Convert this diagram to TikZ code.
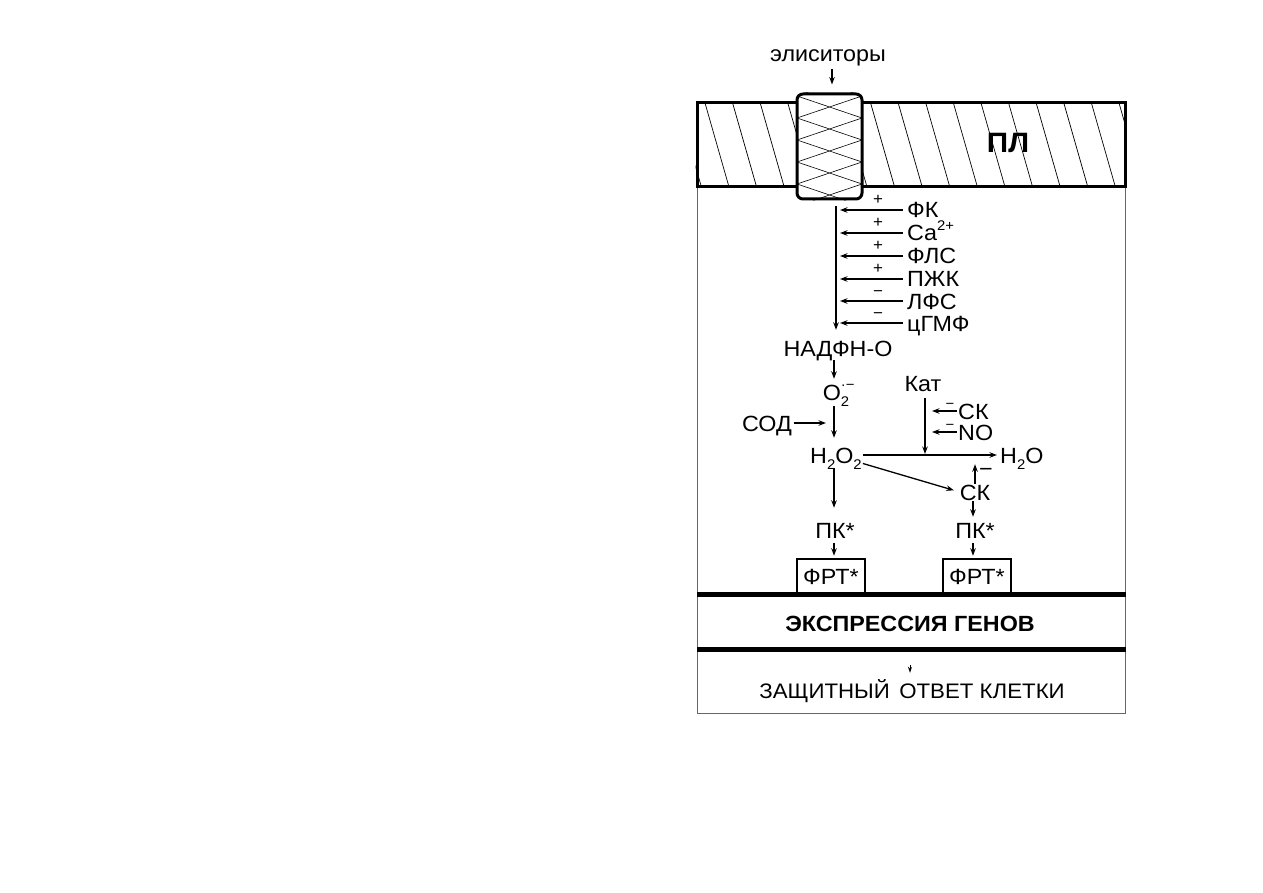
\documentclass[tikz,border=0pt]{standalone}
\usepackage{fontspec}
\setmainfont{Liberation Sans}[FakeStretch=1.06]
\usetikzlibrary{arrows.meta}
\newcommand\mysub[1]{\raisebox{-0.28em}{\fontsize{14}{14}\selectfont #1}}
\newcommand\mysup[1]{\raisebox{0.48em}{\fontsize{14}{14}\selectfont #1}}
\tikzset{
  lbl/.style={font=\fontsize{22}{22}\selectfont, inner sep=0pt, text height=16pt, text depth=0pt},
  sml/.style={font=\fontsize{16}{16}\selectfont, inner sep=0pt},
  arr/.style={line width=1.3pt, -{Stealth[length=7.5pt,width=5.5pt]}},
  hatchline/.style={line width=0.7pt},
  framel/.style={line width=0.8pt, black!60},
  rulel/.style={line width=5pt},
  bandbox/.style={draw, line width=3pt, minimum width=428pt, minimum height=84pt, inner sep=0pt},
  porebox/.style={draw, fill=white, line width=3pt, rounded corners=6pt, minimum width=65pt, minimum height=105pt, inner sep=0pt},
  frtbox/.style={lbl, draw, line width=2.5pt, minimum width=68pt, minimum height=35pt, fill=white}
}
\begin{document}
\begin{tikzpicture}[x=1pt,y=-1pt]
\useasboundingbox (0,0) rectangle (1263,893);
\fill[white] (0,0) rectangle (1263,893);
% column coordinates
\coordinate (cA) at (832,0);
\coordinate (cM) at (836,0);
\coordinate (c1) at (834,0);
\coordinate (cK) at (925,0);
\coordinate (c2) at (973,0);
\coordinate (cE) at (910,0);
% frame
\draw[framel] (697,187) -- (697,713) -- (1125,713) -- (1125,187);
% membrane band
\node[bandbox] (band) at (911,145) {};
\begin{scope}
  \clip (band.north west) rectangle (band.south east);
  \foreach \k in {-2,...,16} {
    \draw[hatchline] ({705+27.6*\k},103) -- ({729+27.6*\k},187);
  }
\end{scope}
\node[porebox] (pore) at (829.5,146.5) {};
\begin{scope}
  \clip[rounded corners=6pt] (pore.north west) rectangle (pore.south east);
  \foreach \k in {-1,...,5} {
    \draw[hatchline, line width=0.6pt] (797,{96+22*\k}) -- (862,{118+22*\k});
    \draw[hatchline, line width=0.6pt] (797,{118+22*\k}) -- (862,{96+22*\k});
  }
\end{scope}
\node[font=\bfseries\fontsize{28}{28}\selectfont, inner sep=0pt] (pl) at (1008,143) {ПЛ};
% elicitors
\node[lbl] (eli) at (828,54) {элиситоры};
\draw[arr, shorten <=7pt, shorten >=8pt] (eli.south -| cA) -- (pore.north -| cA);
% regulators
\node[lbl, anchor=west] (fk) at (907,210) {ФК};
\node[lbl, anchor=west] (ca) at (907,233) {Ca\mysup{2+}};
\node[lbl, anchor=west] (fls) at (907,256) {ФЛС};
\node[lbl, anchor=west] (pzhk) at (907,279) {ПЖК};
\node[lbl, anchor=west] (lfs) at (907,301) {ЛФС};
\node[lbl, anchor=west] (cgmf) at (907,323) {цГМФ};
\foreach \n in {fk,ca,fls,pzhk,lfs,cgmf} {
  \draw[arr, shorten <=4pt, shorten >=4pt] (\n.west) -- (\n.west -| cM);
}
\node[sml] (s1) at (878,200) {+};
\node[sml] (s2) at (878,223) {+};
\node[sml] (s3) at (878,246) {+};
\node[sml] (s4) at (878,269) {+};
\node[sml] (s5) at (878,294) {−};
\node[sml] (s6) at (878,316) {−};
% main chain
\node[lbl] (nadph) at (838,348) {НАДФН-О};
\draw[arr, shorten <=6pt, shorten >=10pt] (pore.south -| cM) -- (nadph.north -| cM);
\node[lbl] (o2) at (836,392) {O\rlap{\mysup{·−}}\mysub{2}};
\draw[arr, shorten <=4pt, shorten >=5pt] (nadph.south -| c1) -- (o2.north -| c1);
\node[lbl, anchor=west] (h2o2) at (810,455) {H\mysub{2}O\mysub{2}};
\draw[arr, shorten <=6pt, shorten >=9pt] (o2.south -| c1) -- (h2o2.north -| c1);
\node[lbl, anchor=east] (sod) at (792,423) {СОД};
\draw[arr, shorten <=2pt, shorten >=8pt] (sod.east) -- (sod.east -| c1);
\node[lbl, anchor=west] (h2o) at (1000,455) {H\mysub{2}O};
\draw[arr, shorten <=1pt, shorten >=3pt] (h2o2.east) -- (h2o.west);
% catalase
\node[lbl] (kat) at (923,383) {Кат};
\draw[arr, shorten <=7pt, shorten >=1pt] (kat.south -| cK) -- (h2o2.east -| cK);
\node[lbl, anchor=west] (sk1) at (958,411) {СК};
\node[lbl, anchor=west] (no) at (958,432) {NO};
\draw[arr, shorten <=1pt, shorten >=7pt] (sk1.west) -- (sk1.west -| cK);
\draw[arr, shorten <=1pt, shorten >=7pt] (no.west) -- (no.west -| cK);
\node[sml, font=\fontsize{14}{14}\selectfont] (m1) at (950,406) {−};
\node[sml, font=\fontsize{14}{14}\selectfont] (m2) at (950,427) {−};
% salicylic acid
\node[lbl] (sk2) at (975,492) {СК};
\draw[arr, shorten <=1pt, shorten >=6pt] (h2o2.south east) -- (sk2.west);
\draw[arr, shorten >=1pt] (sk2.north) -- (sk2.north |- h2o.south);
\node[sml, font=\fontsize{22}{22}\selectfont] (m3) at (986,472) {−};
% protein kinases
\node[lbl] (pk1) at (835,530) {ПК*};
\node[lbl] (pk2) at (975,530) {ПК*};
\draw[arr, shorten <=5pt, shorten >=14pt] (h2o2.south -| c1) -- (pk1.north -| c1);
\draw[arr, shorten <=1pt, shorten >=5pt] (sk2.south -| c2) -- (pk2.north -| c2);
% transcription factors
\node[frtbox] (frt1) at (831,576.5) {ФРТ*};
\node[frtbox] (frt2) at (977,576.5) {ФРТ*};
\draw[arr, shorten <=5pt, shorten >=2pt] (pk1.south -| c1) -- (frt1.north -| c1);
\draw[arr, shorten <=5pt, shorten >=2pt] (pk2.south -| c2) -- (frt2.north -| c2);
% gene expression
\draw[rulel] (697,594) -- (1126,594);
\node[lbl, font=\bfseries\fontsize{22}{22}\selectfont] (expr) at (910,623) {ЭКСПРЕССИЯ ГЕНОВ};
\draw[rulel] (697,649) -- (1126,649);
\node[lbl, font=\fontsize{21}{21}\selectfont] (def) at (912,690) {ЗАЩИТНЫЙ\hspace{0.45em}ОТВЕТ КЛЕТКИ};
\draw[line width=1pt, -{Stealth[length=6pt,width=4pt]}, shorten <=34pt, shorten >=9pt] (expr.south -| cE) -- (def.north -| cE);
\end{tikzpicture}
\end{document}
